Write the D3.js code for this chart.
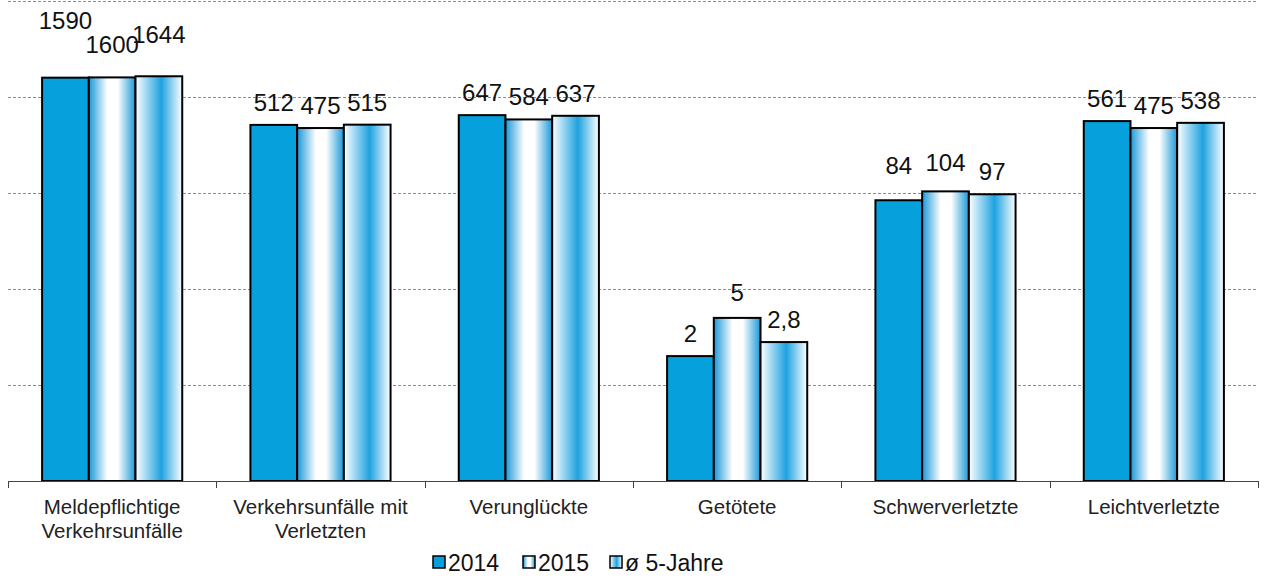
<!DOCTYPE html>
<html>
<head>
<meta charset="utf-8">
<script src="https://cdn.jsdelivr.net/npm/d3@7"></script>
<style>
  body { margin: 0; background: #fff; }
  svg { font-family: "Liberation Sans", Arial, sans-serif; }
</style>
</head>
<body>
<svg id="chart" width="1266" height="579"></svg>
<script>
// ---------- data ---------- //
var categories = [
    ["Meldepflichtige", "Verkehrsunfälle"],
    ["Verkehrsunfälle mit", "Verletzten"],
    ["Verunglückte"],
    ["Getötete"],
    ["Schwerverletzte"],
    ["Leichtverletzte"]
];
var seriesNames = ["2014", "2015", "ø 5-Jahre"];
var values2014 = [1590, 512, 647, 2, 84, 561];
var values2015 = [1600, 475, 584, 5, 104, 475];
var valuesAvg = [1644, 515, 637, 2.8, 97, 538];
var labelTexts = [
    ["1590", "1600", "1644"],
    ["512", "475", "515"],
    ["647", "584", "637"],
    ["2", "5", "2,8"],
    ["84", "104", "97"],
    ["561", "475", "538"]
];
// extra lift of the data labels (the original labels were dragged by hand)
var labelLift = [
    [35, 10, 19],
    [0, 0, 0],
    [0, 0, 0],
    [0, 3, 0],
    [12, 6, 0],
    [0, 0, 0]
];

var allValues = [values2014, values2015, valuesAvg];

var svg = d3.select("#chart");
var plotLeft = 8, plotRight = 1258, plotTop = 1, plotBottom = 481;

var x0 = d3.scaleBand()
    .domain(d3.range(categories.length))
    .range([plotLeft, plotRight]);

var x1 = d3.scaleBand()
    .domain(d3.range(seriesNames.length))
    .range([0, x0.bandwidth()])
    .paddingOuter(0.73);

var y = d3.scaleLog()
    .domain([0.1, 10000])
    .range([plotBottom, plotTop]);

// ---------- gradients ---------- //
var defs = svg.append("defs");
var blue = "#06a0dc";

var g2015 = defs.append("linearGradient").attr("id", "grad2015");
g2015.append("stop").attr("offset", "0%").attr("stop-color", "#1a98d8");
g2015.append("stop").attr("offset", "40%").attr("stop-color", "#ffffff");
g2015.append("stop").attr("offset", "62%").attr("stop-color", "#ffffff");
g2015.append("stop").attr("offset", "100%").attr("stop-color", "#1a98d8");

var gAvg = defs.append("linearGradient").attr("id", "gradAvg");
gAvg.append("stop").attr("offset", "0%").attr("stop-color", "#ffffff");
gAvg.append("stop").attr("offset", "55%").attr("stop-color", "#1ea2e0");
gAvg.append("stop").attr("offset", "100%").attr("stop-color", "#ffffff");

var fills = [blue, "url(#grad2015)", "url(#gradAvg)"];

// ---------- grid ---------- //
var gridVals = [1, 10, 100, 1000, 10000];
svg.append("g").selectAll("line")
    .data(gridVals)
    .enter().append("line")
    .attr("x1", plotLeft)
    .attr("x2", plotRight)
    .attr("y1", function(d){ return Math.round(y(d)) + 0.5; })
    .attr("y2", function(d){ return Math.round(y(d)) + 0.5; })
    .attr("stroke", "#8c8c8c")
    .attr("stroke-width", 1)
    .attr("stroke-dasharray", "3,2");

// ---------- bars ---------- //
var groups = svg.append("g").selectAll("g")
    .data(categories)
    .enter().append("g")
    .attr("transform", function(d, i){ return "translate(" + x0(i) + ",0)"; });

groups.each(function(d, ci){
    var grp = d3.select(this);
    seriesNames.forEach(function(s, si){
        var v = allValues[si][ci];
        grp.append("rect")
            .attr("x", x1(si))
            .attr("y", y(v))
            .attr("width", x1.bandwidth())
            .attr("height", y(0.1) - y(v))
            .attr("fill", fills[si])
            .attr("stroke", "#000")
            .attr("stroke-width", 2);

        grp.append("text")
            .attr("x", x1(si) + x1.bandwidth() / 2)
            .attr("y", y(v) - 14 - labelLift[ci][si])
            .attr("text-anchor", "middle")
            .attr("font-size", "24px")
            .attr("fill", "#111")
            .text(labelTexts[ci][si]);
    });
});

// ---------- x axis ---------- //
svg.append("line")
    .attr("x1", plotLeft).attr("x2", plotRight)
    .attr("y1", plotBottom + 0.5).attr("y2", plotBottom + 0.5)
    .attr("stroke", "#444").attr("stroke-width", 1);

var boundaries = d3.range(categories.length + 1).map(function(i){
    return i < categories.length ? x0(i) : plotRight;
});
svg.append("g").selectAll("line")
    .data(boundaries)
    .enter().append("line")
    .attr("x1", function(d){ return Math.round(d) + 0.5; })
    .attr("x2", function(d){ return Math.round(d) + 0.5; })
    .attr("y1", plotBottom)
    .attr("y2", plotBottom + 7)
    .attr("stroke", "#444");

var catLabels = svg.append("g").selectAll("text")
    .data(categories)
    .enter().append("text")
    .attr("x", function(d, i){ return x0(i) + x0.bandwidth() / 2; })
    .attr("y", 514)
    .attr("text-anchor", "middle")
    .attr("font-size", "20.5px")
    .attr("fill", "#222");

catLabels.each(function(d){
    var t = d3.select(this);
    d.forEach(function(line, li){
        t.append("tspan")
            .attr("x", t.attr("x"))
            .attr("dy", li === 0 ? 0 : 24)
            .text(line);
    });
});

// ---------- legend ---------- //
var legendX = [433, 523, 610];
var legend = svg.append("g").selectAll("g")
    .data(seriesNames)
    .enter().append("g")
    .attr("transform", function(d, i){ return "translate(" + legendX[i] + ",556)"; });

legend.append("rect")
    .attr("width", 12)
    .attr("height", 12)
    .attr("fill", function(d, i){ return fills[i]; })
    .attr("stroke", "#000")
    .attr("stroke-width", 1.5);

legend.append("text")
    .attr("x", 15)
    .attr("y", 15)
    .attr("font-size", "23px")
    .attr("fill", "#111")
    .text(function(d){ return d; });
</script>
</body>
</html>
